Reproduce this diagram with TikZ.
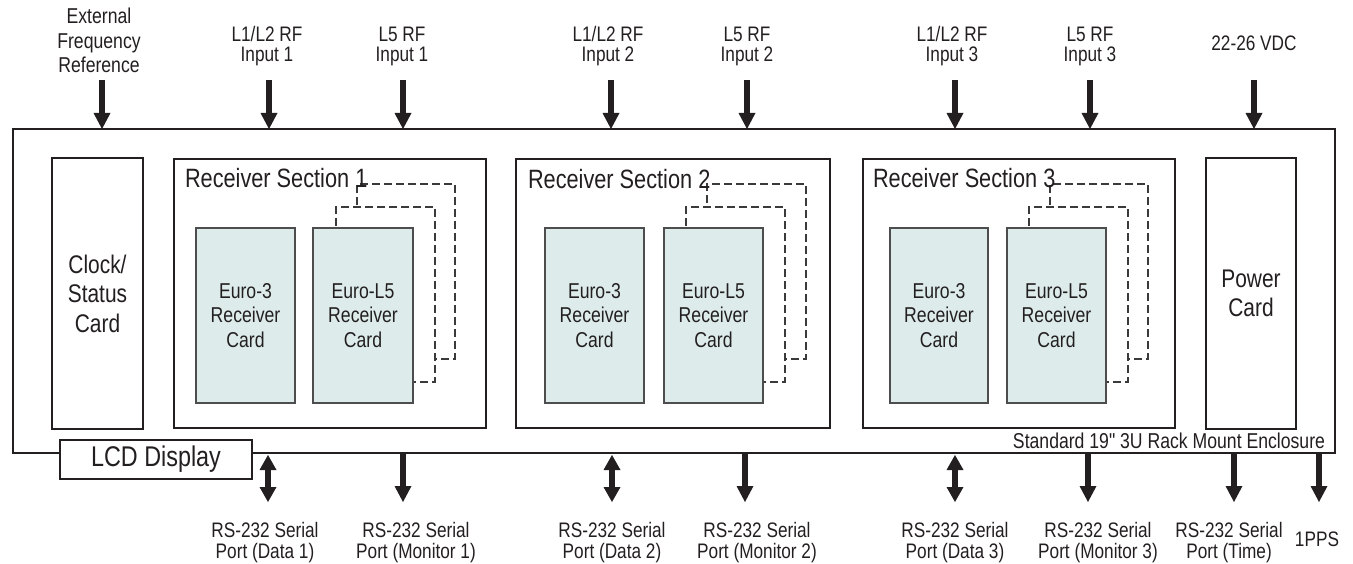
\documentclass[tikz,border=0pt]{standalone}
\usepackage{fontspec}
\setmainfont{Liberation Sans}[FakeStretch=0.82]
\usetikzlibrary{arrows.meta}
\definecolor{ink}{HTML}{231F20}
\definecolor{cardfill}{RGB}{221,236,235}
\definecolor{cardline}{HTML}{4D4D4D}
\definecolor{dashline}{HTML}{3A3A3A}
\newcommand\lblfont{\fontsize{21}{20.5}\selectfont}
\newcommand\extfont{\fontsize{21.5}{24.5}\selectfont}
\newcommand\cardfont{\fontsize{21.5}{24.5}\selectfont}
\newcommand\bigfont{\fontsize{25.5}{29.5}\selectfont}
\newcommand\titlefont{\fontsize{26.5}{30}\selectfont}
\newcommand\encfont{\fontsize{21.5}{22}\selectfont\addfontfeature{Ligatures=TeXOff}}
\newcommand\lcdfont{\fontsize{28.5}{30}\selectfont}
\tikzset{
  every node/.style={inner sep=0pt, outer sep=0pt, text=ink},
  frame/.style={draw=ink, line width=2.6pt, fill=white, rectangle, anchor=north west, align=center},
  card/.style={draw=cardline, line width=1.3pt, fill=cardfill, rectangle, anchor=north west,
    minimum width=99pt, minimum height=175pt, align=center, font=\cardfont},
  ghost/.style={draw=dashline, line width=1.3pt, dash pattern=on 8pt off 4pt, fill=white,
    rectangle, anchor=north west, minimum width=99pt, minimum height=175pt},
  lbl/.style={align=center, font=\lblfont, anchor=base},
  title/.style={anchor=base west, font=\titlefont},
  arr/.style={draw=ink, line width=6pt, -{Triangle[width=17pt,length=16pt,line width=0pt]}},
  darr/.style={draw=ink, line width=6pt, {Triangle[width=17pt,length=15pt,line width=0pt]}-{Triangle[width=17pt,length=15pt,line width=0pt]}},
}
\begin{document}
\begin{tikzpicture}[x=1pt,y=-1pt]
\useasboundingbox (0,0) rectangle (1353,564);
% enclosure
\node[frame, minimum width=1322pt, minimum height=324pt] (encl) at (13,129) {};
\node[anchor=base east, font=\encfont] (enctext) at (1325,448) {Standard 19" 3U Rack Mount Enclosure};
% clock and power
\node[frame, minimum width=91pt, minimum height=271pt, font=\bigfont] (clock) at (52,158) {Clock/\\Status\\Card};
\node[frame, minimum width=90pt, minimum height=271pt, font=\bigfont] (power) at (1206,158) {Power\\Card};
% sections
\node[frame, minimum width=312pt, minimum height=269pt] (sec1) at (174,159) {};
\node[frame, minimum width=314pt, minimum height=269pt] (sec2) at (516,159) {};
\node[frame, minimum width=312pt, minimum height=269pt] (sec3) at (863,159) {};
% section 1
\node[ghost, minimum width=98pt] (s1g2) at (357,184) {};
\node[ghost] (s1g1) at (336,207) {};
\node[card] (s1e3) at (196,228) {Euro-3\\Receiver\\Card};
\node[card, minimum width=100pt] (s1l5) at (313,228) {Euro-L5\\Receiver\\Card};
\node[title] (t1) at (185,188) {Receiver Section 1};
% section 2
\node[ghost] (s2g2) at (707,184) {};
\node[ghost] (s2g1) at (686,207) {};
\node[card] (s2e3) at (545,228) {Euro-3\\Receiver\\Card};
\node[card] (s2l5) at (664,228) {Euro-L5\\Receiver\\Card};
\node[title] (t2) at (528,189) {Receiver Section 2};
% section 3
\node[ghost, minimum width=98pt] (s3g2) at (1050,184) {};
\node[ghost] (s3g1) at (1029,207) {};
\node[card, minimum width=98pt] (s3e3) at (890,228) {Euro-3\\Receiver\\Card};
\node[card] (s3l5) at (1007,228) {Euro-L5\\Receiver\\Card};
\node[title] (t3) at (873,188) {Receiver Section 3};
% LCD
\node[frame, line width=2.4pt, minimum width=192pt, minimum height=39pt, font=\lcdfont] (lcd) at (60,440) {LCD Display};
% top labels (anchor base = last line)
\node[lbl, font=\extfont] (ext) at (99,73) {External\\Frequency\\Reference};
\node[lbl] (in1a) at (267,62) {L1/L2 RF\\Input 1};
\node[lbl] (in1b) at (402,62) {L5 RF\\Input 1};
\node[lbl] (in2a) at (608,62) {L1/L2 RF\\Input 2};
\node[lbl] (in2b) at (747,62) {L5 RF\\Input 2};
\node[lbl] (in3a) at (952,62) {L1/L2 RF\\Input 3};
\node[lbl] (in3b) at (1090,62) {L5 RF\\Input 3};
\node[lbl] (vdc) at (1254,51) {22-26 VDC};
% bottom labels
\node[lbl] (d1) at (265,558) {RS-232 Serial\\Port (Data 1)};
\node[lbl] (m1) at (416,558) {RS-232 Serial\\Port (Monitor 1)};
\node[lbl] (d2) at (612,558) {RS-232 Serial\\Port (Data 2)};
\node[lbl] (m2) at (757,558) {RS-232 Serial\\Port (Monitor 2)};
\node[lbl] (d3) at (955,558) {RS-232 Serial\\Port (Data 3)};
\node[lbl] (m3) at (1098,558) {RS-232 Serial\\Port (Monitor 3)};
\node[lbl] (tm) at (1229,558) {RS-232 Serial\\Port (Time)};
\node[lbl] (pps) at (1317,546) {1PPS};
% arrow coordinates
\coordinate (aext) at (102,80);
\coordinate (a1a) at (269,80);
\coordinate (a1b) at (403,80);
\coordinate (a2a) at (611,80);
\coordinate (a2b) at (747,80);
\coordinate (a3a) at (955,80);
\coordinate (a3b) at (1090,80);
\coordinate (avdc) at (1254,80);
\coordinate (bd1t) at (268,455);
\coordinate (bd1) at (268,502);
\coordinate (bm1) at (403,502);
\coordinate (bd2t) at (612,455);
\coordinate (bd2) at (612,502);
\coordinate (bm2) at (745,502);
\coordinate (bd3t) at (955,455);
\coordinate (bd3) at (955,502);
\coordinate (bm3) at (1088,502);
\coordinate (btm) at (1234,502);
\coordinate (bpps) at (1319,502);
% top arrows
\foreach \c in {aext,a1a,a1b,a2a,a2b,a3a,a3b,avdc}
  \draw[arr] (\c) -- (\c |- encl.north);
% bottom arrows
\foreach \c in {bm1,bm2,bm3,btm,bpps}
  \draw[arr] (\c |- encl.south) -- (\c);
\draw[darr] (bd1t) -- (bd1);
\draw[darr] (bd2t) -- (bd2);
\draw[darr] (bd3t) -- (bd3);
\end{tikzpicture}
\end{document}
